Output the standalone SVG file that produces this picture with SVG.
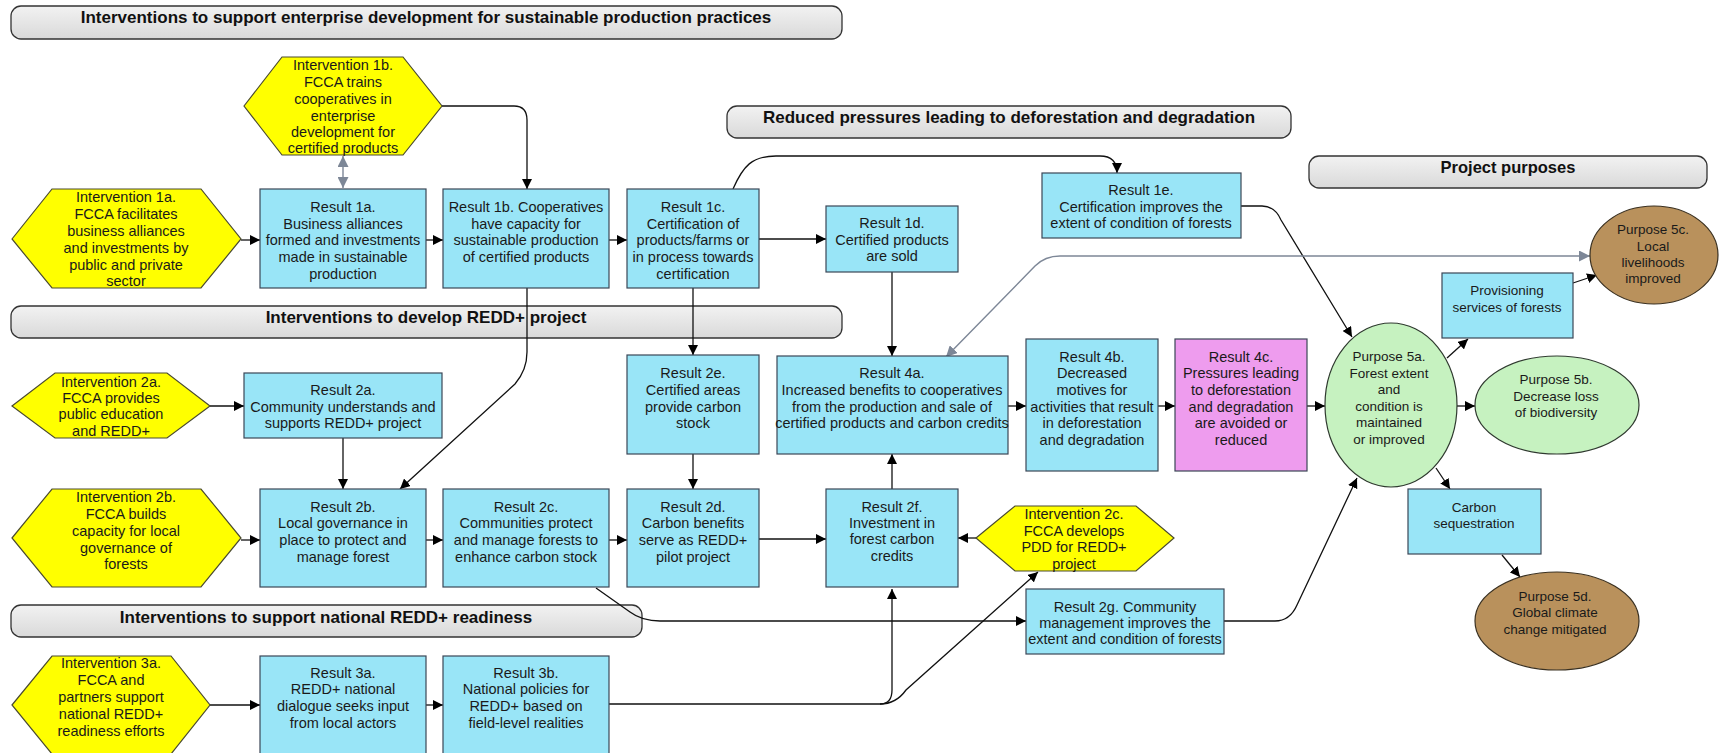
<svg xmlns="http://www.w3.org/2000/svg" width="1720" height="753" viewBox="0 0 1720 753">
<defs>
<linearGradient id="bg" x1="0" y1="0" x2="0" y2="1">
<stop offset="0" stop-color="#f2f2f2"/>
<stop offset="1" stop-color="#d9d9d9"/>
</linearGradient>
<marker id="ah" viewBox="0 0 10 10" refX="10" refY="5" markerWidth="10" markerHeight="10" markerUnits="userSpaceOnUse" orient="auto-start-reverse">
<path d="M0,0 L10,5 L0,10 z" fill="#000"/>
</marker>
<marker id="ag" viewBox="0 0 10 10" refX="10" refY="5" markerWidth="11" markerHeight="11" markerUnits="userSpaceOnUse" orient="auto-start-reverse">
<path d="M0,0 L10,5 L0,10 z" fill="#7d8797"/>
</marker>
</defs>
<style>
.ban{fill:url(#bg);stroke:#333;stroke-width:1.3}
.bt{font-family:"Liberation Sans Narrow","Liberation Sans",sans-serif;font-weight:bold;font-size:17px;fill:#111;text-anchor:middle}
.bt2{font-family:"Liberation Sans",sans-serif;font-weight:bold;font-size:16.5px;fill:#111;text-anchor:middle}
.box{fill:#99e5f7;stroke:#3b4656;stroke-width:1.2}
.mag{fill:#ee9cee;stroke:#3b4656;stroke-width:1.2}
.hex{fill:#ffff00;stroke:#4a4a30;stroke-width:1.2}
.grn{fill:#c6f2c0;stroke:#2f3a2f;stroke-width:1.2}
.brn{fill:#b9915c;stroke:#3a3020;stroke-width:1.2}
.t{font-family:"Liberation Sans Narrow","Liberation Sans",sans-serif;font-size:14.5px;fill:#1a1a1a;text-anchor:middle}
.p{font-family:"Liberation Sans",sans-serif;font-size:13.5px;fill:#1a1a1a;text-anchor:middle}
.c{fill:none;stroke:#111;stroke-width:1.3;marker-end:url(#ah)}
.g{fill:none;stroke:#7d8797;stroke-width:1.4;marker-end:url(#ag);marker-start:url(#ag)}
</style>
<rect width="1720" height="753" fill="#fff"/>

<g id="banner1"><rect class="ban" x="11" y="6" width="831" height="33" rx="10"/><text class="bt" x="426" y="23">Interventions to support enterprise development for sustainable production practices</text></g>
<g id="banner2"><rect class="ban" x="727" y="106" width="564" height="32" rx="10"/><text class="bt" x="1009" y="123">Reduced pressures leading to deforestation and degradation</text></g>
<g id="banner3"><rect class="ban" x="1309" y="156" width="398" height="32" rx="10"/><text class="bt2" x="1508" y="173">Project purposes</text></g>
<g id="banner4"><rect class="ban" x="11" y="306" width="831" height="32" rx="10"/><text class="bt" x="426" y="323">Interventions to develop REDD+ project</text></g>
<g id="banner5"><rect class="ban" x="11" y="605" width="631" height="32" rx="10"/><text class="bt" x="326" y="623">Interventions to support national REDD+ readiness</text></g>

<g id="connectors">
<path class="c" d="M241,240 H260"/>
<path class="c" d="M426,240 H443"/>
<path class="c" d="M609,240 H627"/>
<path class="c" d="M759,239 H826"/>
<path class="c" d="M442,106 H514 Q527,106 527,120 V189"/>
<path class="g" d="M343,156 V188"/>
<path class="c" d="M733,189 C743,166 752,156 776,156 H1100 Q1117,156 1117,173"/>
<path class="c" d="M892,272 V356"/>
<path class="c" d="M693,288 V355"/>
<path class="c" d="M527,288 V352 Q527,370 515,384 L400,489"/>
<path class="c" d="M210,406 H244"/>
<path class="c" d="M343,438 V489"/>
<path class="c" d="M693,454 V489"/>
<path class="c" d="M241,540 H260"/>
<path class="c" d="M426,540 H443"/>
<path class="c" d="M609,540 H627"/>
<path class="c" d="M759,539 H826"/>
<path class="c" d="M976,538 H958"/>
<path class="c" d="M892,489 V454"/>
<path class="c" d="M1008,406 H1026"/>
<path class="c" d="M1158,406 H1175"/>
<path class="c" d="M1307,406 H1325"/>
<path class="c" d="M1241,206 H1262 Q1275,206 1281,220 L1352,337"/>
<path class="g" d="M946,357 L1035,266 Q1045,256 1060,256 H1590"/>
<path class="c" d="M1447,358 L1468,339"/>
<path class="c" d="M1573,283 L1597,275"/>
<path class="c" d="M1457,406 H1475"/>
<path class="c" d="M1436,468 L1450,489"/>
<path class="c" d="M1502,555 L1520,577"/>
<path class="c" d="M596,588 L630,612 Q642,621 660,621 H1026"/>
<path class="c" d="M1224,621 H1275 Q1290,621 1297,605 L1357,478"/>
<path class="c" d="M210,705 H260"/>
<path class="c" d="M426,705 H443"/>
<path class="c" d="M609,704 H880 Q892,704 892,690 V589"/>
<path class="c" d="M880,704 Q896,704 906,690 L1038,572"/>
</g>

<g id="hex1a"><polygon class="hex" points="12,239 52,189 201,189 241,239 201,288 52,288"/>
<text class="t"><tspan x="126" y="202">Intervention 1a.</tspan><tspan x="126" y="219">FCCA facilitates</tspan><tspan x="126" y="236">business alliances</tspan><tspan x="126" y="253">and investments by</tspan><tspan x="126" y="270">public and private</tspan><tspan x="126" y="286">sector</tspan></text></g>
<g id="hex1b"><polygon class="hex" points="244,106 282,57 403,57 442,106 403,155 282,155"/>
<text class="t"><tspan x="343" y="70">Intervention 1b.</tspan><tspan x="343" y="87">FCCA trains</tspan><tspan x="343" y="104">cooperatives in</tspan><tspan x="343" y="121">enterprise</tspan><tspan x="343" y="137">development for</tspan><tspan x="343" y="153">certified products</tspan></text></g>
<g id="r1a"><rect class="box" x="260" y="189" width="166" height="99"/>
<text class="t"><tspan x="343" y="212">Result 1a.</tspan><tspan x="343" y="229">Business alliances</tspan><tspan x="343" y="245">formed and investments</tspan><tspan x="343" y="262">made in sustainable</tspan><tspan x="343" y="279">production</tspan></text></g>
<g id="r1b"><rect class="box" x="443" y="189" width="166" height="99"/>
<text class="t"><tspan x="526" y="212">Result 1b. Cooperatives</tspan><tspan x="526" y="229">have capacity for</tspan><tspan x="526" y="245">sustainable production</tspan><tspan x="526" y="262">of certified products</tspan></text></g>
<g id="r1c"><rect class="box" x="627" y="189" width="132" height="99"/>
<text class="t"><tspan x="693" y="212">Result 1c.</tspan><tspan x="693" y="229">Certification of</tspan><tspan x="693" y="245">products/farms or</tspan><tspan x="693" y="262">in process towards</tspan><tspan x="693" y="279">certification</tspan></text></g>
<g id="r1d"><rect class="box" x="826" y="206" width="132" height="66"/>
<text class="t"><tspan x="892" y="228">Result 1d.</tspan><tspan x="892" y="245">Certified products</tspan><tspan x="892" y="261">are sold</tspan></text></g>
<g id="r1e"><rect class="box" x="1042" y="173" width="199" height="65"/>
<text class="t"><tspan x="1141" y="195">Result 1e.</tspan><tspan x="1141" y="212">Certification improves the</tspan><tspan x="1141" y="228">extent of condition of forests</tspan></text></g>

<g id="hex2a"><polygon class="hex" points="12,406 55,373 167,373 210,406 167,438 55,438"/>
<text class="t"><tspan x="111" y="387">Intervention 2a.</tspan><tspan x="111" y="403">FCCA provides</tspan><tspan x="111" y="419">public education</tspan><tspan x="111" y="436">and REDD+</tspan></text></g>
<g id="r2a"><rect class="box" x="244" y="373" width="198" height="65"/>
<text class="t"><tspan x="343" y="395">Result 2a.</tspan><tspan x="343" y="412">Community understands and</tspan><tspan x="343" y="428">supports REDD+ project</tspan></text></g>
<g id="r2e"><rect class="box" x="627" y="355" width="132" height="99"/>
<text class="t"><tspan x="693" y="378">Result 2e.</tspan><tspan x="693" y="395">Certified areas</tspan><tspan x="693" y="412">provide carbon</tspan><tspan x="693" y="428">stock</tspan></text></g>
<g id="r4a"><rect class="box" x="777" y="356" width="231" height="98"/>
<text class="t"><tspan x="892" y="378">Result 4a.</tspan><tspan x="892" y="395">Increased benefits to cooperatives</tspan><tspan x="892" y="412">from the production and sale of</tspan><tspan x="892" y="428">certified products and carbon credits</tspan></text></g>
<g id="r4b"><rect class="box" x="1026" y="339" width="132" height="132"/>
<text class="t"><tspan x="1092" y="362">Result 4b.</tspan><tspan x="1092" y="378">Decreased</tspan><tspan x="1092" y="395">motives for</tspan><tspan x="1092" y="412">activities that result</tspan><tspan x="1092" y="428">in deforestation</tspan><tspan x="1092" y="445">and degradation</tspan></text></g>
<g id="r4c"><rect class="mag" x="1175" y="339" width="132" height="132"/>
<text class="t"><tspan x="1241" y="362">Result 4c.</tspan><tspan x="1241" y="378">Pressures leading</tspan><tspan x="1241" y="395">to deforestation</tspan><tspan x="1241" y="412">and degradation</tspan><tspan x="1241" y="428">are avoided or</tspan><tspan x="1241" y="445">reduced</tspan></text></g>

<g id="p5a"><ellipse class="grn" cx="1391" cy="405" rx="66" ry="82"/>
<text class="p"><tspan x="1389" y="361">Purpose 5a.</tspan><tspan x="1389" y="378">Forest extent</tspan><tspan x="1389" y="394">and</tspan><tspan x="1389" y="411">condition is</tspan><tspan x="1389" y="427">maintained</tspan><tspan x="1389" y="444">or improved</tspan></text></g>
<g id="prov"><rect class="box" x="1442" y="273" width="131" height="65"/>
<text class="p"><tspan x="1507" y="295">Provisioning</tspan><tspan x="1507" y="312">services of forests</tspan></text></g>
<g id="p5c"><ellipse class="brn" cx="1654" cy="255" rx="64" ry="49"/>
<text class="p"><tspan x="1653" y="234">Purpose 5c.</tspan><tspan x="1653" y="251">Local</tspan><tspan x="1653" y="267">livelihoods</tspan><tspan x="1653" y="283">improved</tspan></text></g>
<g id="p5b"><ellipse class="grn" cx="1557" cy="405" rx="82" ry="49"/>
<text class="p"><tspan x="1556" y="384">Purpose 5b.</tspan><tspan x="1556" y="401">Decrease loss</tspan><tspan x="1556" y="417">of biodiversity</tspan></text></g>
<g id="carbon"><rect class="box" x="1408" y="489" width="133" height="65"/>
<text class="p"><tspan x="1474" y="512">Carbon</tspan><tspan x="1474" y="528">sequestration</tspan></text></g>
<g id="p5d"><ellipse class="brn" cx="1557" cy="621" rx="82" ry="49"/>
<text class="p"><tspan x="1555" y="601">Purpose 5d.</tspan><tspan x="1555" y="617">Global climate</tspan><tspan x="1555" y="634">change mitigated</tspan></text></g>

<g id="hex2b"><polygon class="hex" points="12,538 52,489 201,489 241,538 201,587 52,587"/>
<text class="t"><tspan x="126" y="502">Intervention 2b.</tspan><tspan x="126" y="519">FCCA builds</tspan><tspan x="126" y="536">capacity for local</tspan><tspan x="126" y="553">governance of</tspan><tspan x="126" y="569">forests</tspan></text></g>
<g id="r2b"><rect class="box" x="260" y="489" width="166" height="98"/>
<text class="t"><tspan x="343" y="512">Result 2b.</tspan><tspan x="343" y="528">Local governance in</tspan><tspan x="343" y="545">place to protect and</tspan><tspan x="343" y="562">manage forest</tspan></text></g>
<g id="r2c"><rect class="box" x="443" y="489" width="166" height="98"/>
<text class="t"><tspan x="526" y="512">Result 2c.</tspan><tspan x="526" y="528">Communities protect</tspan><tspan x="526" y="545">and manage forests to</tspan><tspan x="526" y="562">enhance carbon stock</tspan></text></g>
<g id="r2d"><rect class="box" x="627" y="489" width="132" height="98"/>
<text class="t"><tspan x="693" y="512">Result 2d.</tspan><tspan x="693" y="528">Carbon benefits</tspan><tspan x="693" y="545">serve as REDD+</tspan><tspan x="693" y="562">pilot project</tspan></text></g>
<g id="r2f"><rect class="box" x="826" y="489" width="132" height="98"/>
<text class="t"><tspan x="892" y="512">Result 2f.</tspan><tspan x="892" y="528">Investment in</tspan><tspan x="892" y="544">forest carbon</tspan><tspan x="892" y="561">credits</tspan></text></g>
<g id="hex2c"><polygon class="hex" points="976,538 1015,506 1136,506 1174,538 1136,571 1015,571"/>
<text class="t"><tspan x="1074" y="519">Intervention 2c.</tspan><tspan x="1074" y="536">FCCA develops</tspan><tspan x="1074" y="552">PDD for REDD+</tspan><tspan x="1074" y="569">project</tspan></text></g>
<g id="r2g"><rect class="box" x="1026" y="589" width="198" height="65"/>
<text class="t"><tspan x="1125" y="612">Result 2g. Community</tspan><tspan x="1125" y="628">management improves the</tspan><tspan x="1125" y="644">extent and condition of forests</tspan></text></g>

<g id="hex3a"><polygon class="hex" points="12,705 52,656 171,656 210,705 171,754 52,754"/>
<text class="t"><tspan x="111" y="668">Intervention 3a.</tspan><tspan x="111" y="685">FCCA and</tspan><tspan x="111" y="702">partners support</tspan><tspan x="111" y="719">national REDD+</tspan><tspan x="111" y="736">readiness efforts</tspan></text></g>
<g id="r3a"><rect class="box" x="260" y="656" width="166" height="104"/>
<text class="t"><tspan x="343" y="678">Result 3a.</tspan><tspan x="343" y="694">REDD+ national</tspan><tspan x="343" y="711">dialogue seeks input</tspan><tspan x="343" y="728">from local actors</tspan></text></g>
<g id="r3b"><rect class="box" x="443" y="656" width="166" height="104"/>
<text class="t"><tspan x="526" y="678">Result 3b.</tspan><tspan x="526" y="694">National policies for</tspan><tspan x="526" y="711">REDD+ based on</tspan><tspan x="526" y="728">field-level realities</tspan></text></g>
</svg>
